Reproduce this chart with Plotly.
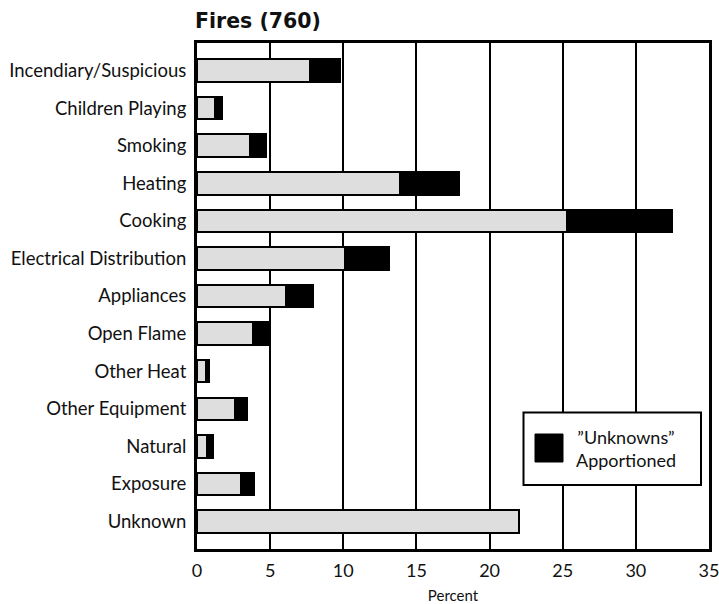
import plotly.graph_objects as go

categories = ["Incendiary/Suspicious", "Children Playing", "Smoking", "Heating", "Cooking",
              "Electrical Distribution", "Appliances", "Open Flame", "Other Heat",
              "Other Equipment", "Natural", "Exposure", "Unknown"]
known_pct = [7.7, 1.2, 3.6, 13.9, 25.3, 10.1, 6.1, 3.8, 0.6, 2.6, 0.7, 3.0, 22.0]
apportioned_pct = [2.1, 0.5, 1.1, 4.0, 7.2, 3.0, 1.8, 1.1, 0.2, 0.8, 0.4, 0.9, 0.0]
x_ticks = [0, 5, 10, 15, 20, 25, 30, 35]

FONT = "Lato, 'Noto Sans', sans-serif"
TITLE_FONT = "'DejaVu Sans', sans-serif"

fig = go.Figure()
fig.add_trace(go.Bar(
    y=categories, x=known_pct, orientation="h", width=0.6,
    marker=dict(color="#dedede", line=dict(color="black", width=2)),
    showlegend=False, name="Known"))
fig.add_trace(go.Bar(
    y=categories, x=apportioned_pct, orientation="h", width=0.6,
    marker=dict(color="black", line=dict(color="black", width=2)),
    showlegend=False, name="\"Unknowns\" Apportioned"))

fig.update_layout(
    barmode="stack",
    width=719, height=604,
    margin=dict(l=197, r=10, t=43, b=55, autoexpand=False),
    paper_bgcolor="white", plot_bgcolor="white",
    font=dict(family=FONT, color="#111111", size=18),
    title=dict(text="<b>Fires (760)</b>", x=195/719, xanchor="left", y=1-21/604, yanchor="middle",
               font=dict(size=20.5, family=TITLE_FONT, color="#111111")),
    xaxis=dict(range=[0, 35], tickvals=x_ticks, showgrid=True, gridcolor="black", gridwidth=2,
               zeroline=False, showline=True, linecolor="black", linewidth=3, mirror=True,
               ticks="", ticklabelstandoff=3, tickfont=dict(size=18), automargin=False,
               ticklabeloverflow="allow",
               title=dict(text="Percent", font=dict(size=15), standoff=14)),
    yaxis=dict(categoryorder="array", categoryarray=categories, range=[12.73, -0.73],
               showgrid=False, zeroline=False, showline=True, linecolor="black", linewidth=3,
               mirror=True, ticks="", ticklabelstandoff=4, tickfont=dict(size=18.5),
               automargin=False),
)

# legend box drawn as shapes + text
fig.add_shape(type="rect", xref="paper", yref="paper",
              x0=(523.5-197)/512, x1=(701-197)/512, y0=(550-486)/506, y1=(550-413.5)/506,
              line=dict(color="black", width=2), fillcolor="white", layer="above")
fig.add_shape(type="rect", xref="paper", yref="paper",
              x0=(535-197)/512, x1=(563-197)/512, y0=(550-463)/506, y1=(550-435)/506,
              line=dict(color="black", width=1), fillcolor="black", layer="above")
fig.add_annotation(xref="paper", yref="paper", x=(626-197)/512, y=(550-449)/506,
                   text="\u201dUnknowns\u201d<br>Apportioned", showarrow=False,
                   xanchor="center", yanchor="middle", align="center",
                   font=dict(size=18, family=FONT, color="#111111"))

fig.write_html("out.html", post_script="document.body.style.margin='0';",
               config={"displayModeBar": False})
